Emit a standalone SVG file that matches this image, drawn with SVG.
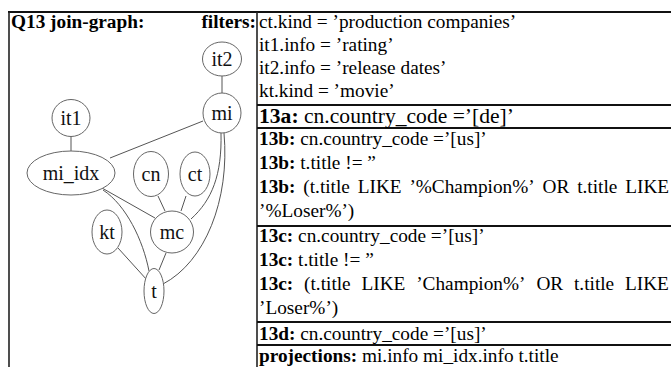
<svg xmlns="http://www.w3.org/2000/svg" width="671" height="367" viewBox="0 0 671 367">
<style>
  .t { font-family: "Liberation Serif", "Times New Roman", serif; font-size: 19.3px; fill: #000; }
  .b { font-weight: bold; }
  .big { font-size: 20px; }
  .nl { font-family: "Liberation Serif", "Times New Roman", serif; font-size: 20px; fill: #111; text-anchor: middle; }
  .node ellipse { fill: #fff; stroke: #666; stroke-width: 1; }
  .edge { fill: none; stroke: #555; stroke-width: 1; }
  .rule { stroke: #111; stroke-width: 2; fill: none; }
  .vrule { stroke: #222; stroke-width: 1.6; fill: none; }
</style>
<rect width="671" height="367" fill="#fff"/>
<g id="table-lines">
  <line class="rule" x1="8" y1="12" x2="671" y2="12"/>
  <line class="vrule" x1="9" y1="12" x2="9" y2="367"/>
  <line class="vrule" x1="257" y1="12" x2="257" y2="367"/>
  <line class="rule" x1="257" y1="105" x2="671" y2="105"/>
  <line class="rule" x1="257" y1="128" x2="671" y2="128"/>
  <line class="rule" x1="257" y1="226" x2="671" y2="226"/>
  <line class="rule" x1="257" y1="322" x2="671" y2="322"/>
  <line class="rule" x1="257" y1="345" x2="671" y2="345"/>
</g>
<text class="t b" x="11" y="28">Q13 join-graph:</text>
<text class="t b" x="256" y="28" text-anchor="end">filters:</text>
<g id="connectors">
  <line class="edge" x1="222" y1="76" x2="222" y2="93"/>
  <line class="edge" x1="71" y1="136" x2="71" y2="151"/>
  <line class="edge" x1="203" y1="121" x2="110" y2="158"/>
  <line class="edge" x1="158" y1="196" x2="165" y2="211"/>
  <line class="edge" x1="186" y1="196" x2="181" y2="211"/>
  <line class="edge" x1="102" y1="188" x2="155" y2="218"/>
  <path class="edge" d="M103,190 C126,205 143,240 149,271"/>
  <line class="edge" x1="118" y1="248" x2="147" y2="280"/>
  <line class="edge" x1="166" y1="253" x2="159" y2="270"/>
  <path class="edge" d="M221,133 C222,175 212,200 191,219"/>
  <path class="edge" d="M224,133 C230,200 205,262 163,284"/>
</g>
<g id="node-it2" class="node"><ellipse cx="222" cy="59" rx="19.5" ry="17"/><text class="nl" x="222" y="66">it2</text></g>
<g id="node-mi" class="node"><ellipse cx="222" cy="113" rx="19" ry="20"/><text class="nl" x="222" y="120">mi</text></g>
<g id="node-it1" class="node"><ellipse cx="71" cy="118" rx="19" ry="18.5"/><text class="nl" x="71" y="125">it1</text></g>
<g id="node-mi_idx" class="node"><ellipse cx="71" cy="173" rx="44" ry="22"/><text class="nl" x="71" y="180">mi_idx</text></g>
<g id="node-cn" class="node"><ellipse cx="151" cy="174" rx="17.5" ry="22.5"/><text class="nl" x="151" y="181">cn</text></g>
<g id="node-ct" class="node"><ellipse cx="195" cy="174" rx="15" ry="22"/><text class="nl" x="195" y="181">ct</text></g>
<g id="node-mc" class="node"><ellipse cx="172" cy="232" rx="21.5" ry="21"/><text class="nl" x="172" y="239">mc</text></g>
<g id="node-kt" class="node"><ellipse cx="107" cy="232" rx="15" ry="22"/><text class="nl" x="107" y="239">kt</text></g>
<g id="node-t" class="node"><ellipse cx="154" cy="291" rx="10" ry="22.5"/><text class="nl" x="154" y="298">t</text></g>
<g id="filters">
  <text class="t" x="259" y="28">ct.kind = ’production companies’</text>
  <text class="t" x="259" y="51">it1.info = ’rating’</text>
  <text class="t" x="259" y="74">it2.info = ’release dates’</text>
  <text class="t" x="259" y="97">kt.kind = ’movie’</text>
  <text class="t big" x="259" y="123" textLength="255" lengthAdjust="spacingAndGlyphs"><tspan class="b">13a:</tspan> cn.country_code =’[de]’</text>
  <text class="t" x="259" y="145"><tspan class="b">13b:</tspan> cn.country_code =’[us]’</text>
  <text class="t" x="259" y="169"><tspan class="b">13b:</tspan> t.title != ”</text>
  <text class="t" y="193"><tspan class="b" x="259">13b:</tspan><tspan x="303.3">(t.title</tspan><tspan x="357.7">LIKE</tspan><tspan x="409.4">’%Champion%’</tspan><tspan x="542.6">OR</tspan><tspan x="577.2">t.title</tspan><tspan x="625.2">LIKE</tspan></text>
  <text class="t" x="259" y="217">’%Loser%’)</text>
  <text class="t" x="259" y="242"><tspan class="b">13c:</tspan> cn.country_code =’[us]’</text>
  <text class="t" x="259" y="266"><tspan class="b">13c:</tspan> t.title != ”</text>
  <text class="t" y="290"><tspan class="b" x="259">13c:</tspan><tspan x="304.1">(t.title</tspan><tspan x="361.5">LIKE</tspan><tspan x="416.2">’Champion%’</tspan><tspan x="536.4">OR</tspan><tspan x="574">t.title</tspan><tspan x="625">LIKE</tspan></text>
  <text class="t" x="259" y="314">’Loser%’)</text>
  <text class="t" x="259" y="340"><tspan class="b">13d:</tspan> cn.country_code =’[us]’</text>
  <text class="t" x="259" y="362"><tspan class="b">projections:</tspan> mi.info mi_idx.info t.title</text>
</g>
</svg>
